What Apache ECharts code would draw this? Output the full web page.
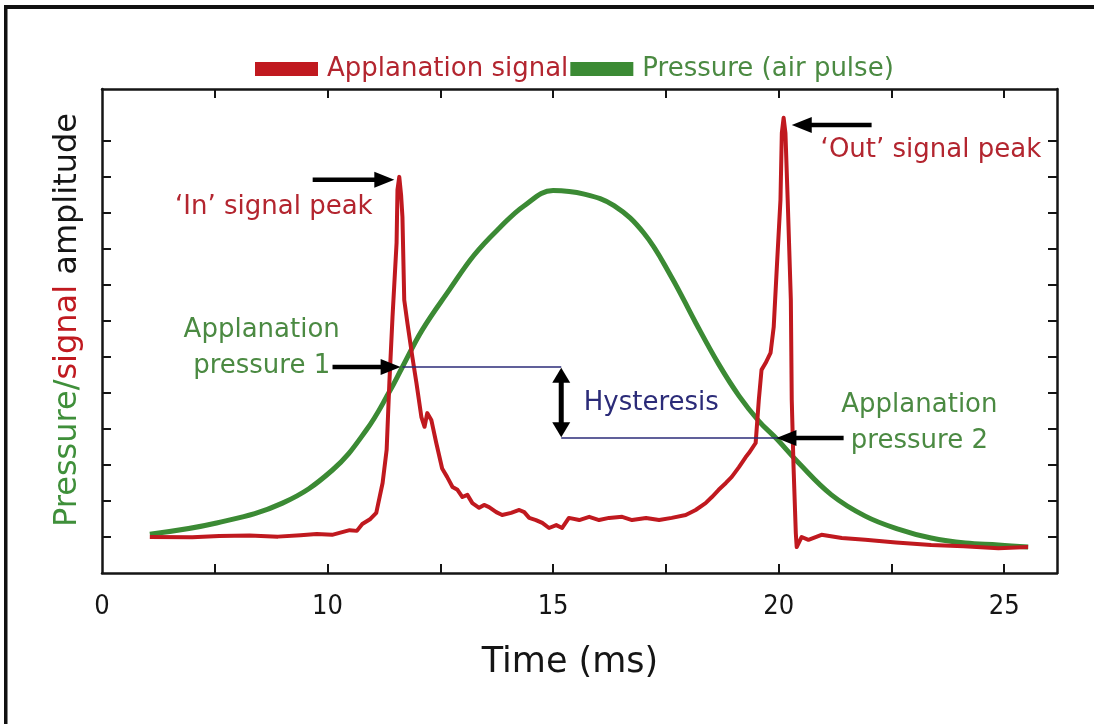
<!DOCTYPE html>
<html>
<head>
<meta charset="utf-8">
<script src="https://cdn.jsdelivr.net/npm/echarts@6/dist/echarts.min.js"></script>
<style>
  html, body { margin: 0; padding: 0; background: #ffffff; }
  #chart { width: 1094px; height: 724px; }
</style>
</head>
<body>
<div id="chart"></div>
<script>
// Applanation signal (corneal reflection), time in ms vs amplitude (arbitrary units)
const signalTime = [6.06, 7.0, 7.6, 8.27, 8.9, 9.4, 9.76, 10.1, 10.49, 10.65,
  10.77, 10.95, 11.08, 11.22, 11.31, 11.37, 11.44, 11.53, 11.55, 11.59,
  11.63, 11.66, 11.70, 11.77, 11.88, 11.97, 12.08, 12.15, 12.21, 12.30,
  12.41, 12.54, 12.65, 12.77, 12.88, 12.99, 13.10, 13.21, 13.36, 13.47,
  13.58, 13.74, 13.87, 14.07, 14.25, 14.36, 14.47, 14.62, 14.76, 14.91,
  15.07, 15.20, 15.35, 15.58, 15.80, 16.02, 16.24, 16.53, 16.75, 17.06,
  17.35, 17.63, 17.94, 18.16, 18.38, 18.52, 18.67, 18.83, 18.96, 19.12,
  19.27, 19.34, 19.49, 19.56, 19.62, 19.71, 19.82, 19.89, 19.96, 20.04,
  20.07, 20.11, 20.15, 20.20, 20.27, 20.29, 20.33, 20.38, 20.40, 20.51,
  20.66, 20.95, 21.4, 21.92, 22.6, 23.38, 24.1, 24.87, 25.53];
const signalAmp = [1.00, 0.99, 1.03, 1.04, 1.01, 1.05, 1.08, 1.06, 1.19, 1.17,
  1.36, 1.50, 1.67, 2.50, 3.42, 5.28, 7.11, 9.17, 10.64, 11.00,
  10.5, 9.89, 7.58, 6.94, 6.00, 5.28, 4.33, 4.06, 4.44, 4.25,
  3.61, 2.90, 2.67, 2.39, 2.31, 2.11, 2.17, 1.94, 1.81, 1.89,
  1.83, 1.69, 1.61, 1.67, 1.75, 1.69, 1.53, 1.47, 1.39, 1.25,
  1.33, 1.25, 1.53, 1.47, 1.56, 1.47, 1.53, 1.56, 1.47, 1.53,
  1.47, 1.53, 1.61, 1.75, 1.94, 2.11, 2.31, 2.50, 2.67, 2.94,
  3.22, 3.33, 3.61, 4.81, 5.64, 5.83, 6.11, 6.83, 8.50, 10.36,
  12.22, 12.64, 12.22, 10.36, 7.58, 4.81, 2.94, 1.11, 0.72, 1.00,
  0.92, 1.06, 0.97, 0.92, 0.85, 0.78, 0.74, 0.69, 0.72];

// Air-pulse pressure, same time base
const pressureTime = [6.06, 7.54, 9.00, 10.11, 10.86, 11.37, 11.66, 12.10, 12.70, 13.25,
  13.81, 14.36, 15.00, 15.69, 16.35, 17.01, 17.61, 18.16, 18.67, 19.12,
  19.56, 19.96, 20.44, 21.17, 21.92, 22.65, 23.38, 24.14, 24.87, 25.53];
const pressureAmp = [1.08, 1.39, 1.94, 2.86, 3.97, 5.03, 5.72, 6.75, 7.86, 8.83,
  9.58, 10.20, 10.62, 10.52, 10.20, 9.44, 8.25, 6.95, 5.80, 4.92,
  4.22, 3.72, 3.06, 2.17, 1.58, 1.22, 0.97, 0.83, 0.78, 0.72];

// Axis ticks and labels
const xTickValues = [7.5, 10, 12.5, 15, 17.5, 20, 22.5, 25];
const xLabelValues = [5, 10, 15, 20, 25];
const xTickLabels = ['0', '10', '15', '20', '25'];
const yTickValues = [1, 2, 3, 4, 5, 6, 7, 8, 9, 10, 11, 12];

const seriesNames = ['Applanation signal', 'Pressure (air pulse)'];

// Annotation anchors (data coordinates)
const peakArrows = [
  { from: [9.67, 10.92], to: [11.48, 10.92] },
  { from: [22.06, 12.44], to: [20.29, 12.44] },
  { from: [10.11, 5.72], to: [11.62, 5.72] },
  { from: [21.44, 3.75], to: [19.95, 3.75] }
];
const hysteresisLevels = [
  [[11.66, 5.72], [15.18, 5.72]],
  [[15.18, 3.75], [20.0, 3.75]]
];
const hysteresisSpan = { t: 15.18, top: 5.70, bottom: 3.77 };

const RED = '#c0191f';
const GREEN = '#3b8a34';
const RED_TEXT = '#b3252f';
const GREEN_TEXT = '#4b8a42';
const NAVY = '#2b2b78';
const INK = '#151515';

const notes = [
  { text: '\u2018In\u2019 signal peak', at: [11.0, 10.17], align: 'right', color: RED_TEXT },
  { text: '\u2018Out\u2019 signal peak', at: [20.93, 11.75], align: 'left', color: RED_TEXT },
  { text: 'Applanation\npressure 1', at: [8.54, 6.25], align: 'center', color: GREEN_TEXT },
  { text: 'Applanation\npressure 2', at: [23.12, 4.15], align: 'center', color: GREEN_TEXT },
  { text: 'Hysteresis', at: [15.68, 4.72], align: 'left', color: NAVY }
];

const zip = (a, b) => a.map((v, i) => [v, b[i]]);

const TEXT_FONT = '"DejaVu Sans", "Noto Sans", sans-serif';
const TICK_FONT = '"Liberation Sans Narrow", "DejaVu Sans Condensed", "Liberation Sans", sans-serif';

const X_MIN = 5, X_MAX = 26.17, Y_MIN = 0, Y_MAX = 13.44;

function frameAxis(extra) {
  return Object.assign({
    type: 'value',
    axisLine: { show: true, onZero: false, lineStyle: { color: INK, width: 2.5 } },
    axisTick: { show: true, inside: true, length: 9, lineStyle: { color: INK, width: 2 } },
    axisLabel: { show: false },
    splitLine: { show: false }
  }, extra);
}

const chart = echarts.init(document.getElementById('chart'), null, { renderer: 'canvas' });

chart.setOption({
  animation: false,
  backgroundColor: '#ffffff',
  grid: { left: 102, top: 89, right: 37, bottom: 151, containLabel: false },
  legend: {
    left: 250,
    top: 51,
    icon: 'rect',
    itemWidth: 63,
    itemHeight: 14,
    itemGap: 2,
    data: [
      { name: seriesNames[0], textStyle: { color: RED_TEXT } },
      { name: seriesNames[1], textStyle: { color: GREEN_TEXT } }
    ],
    textStyle: { fontSize: 26, fontFamily: TEXT_FONT, padding: [0, 0, 0, 4] }
  },
  xAxis: [
    frameAxis({
      position: 'bottom', min: X_MIN, max: X_MAX,
      axisTick: { show: true, inside: true, length: 9, lineStyle: { color: INK, width: 2 }, customValues: xTickValues },
      axisLabel: {
        show: true, customValues: xLabelValues, margin: 20,
        fontSize: 27, fontFamily: TICK_FONT, color: INK,
        formatter: v => xTickLabels[xLabelValues.indexOf(v)]
      }
    }),
    frameAxis({
      position: 'top', min: X_MIN, max: X_MAX,
      axisTick: { show: true, inside: true, length: 9, lineStyle: { color: INK, width: 2 }, customValues: xTickValues }
    })
  ],
  yAxis: [
    frameAxis({
      position: 'left', min: Y_MIN, max: Y_MAX,
      axisTick: { show: true, inside: true, length: 9, lineStyle: { color: INK, width: 2 }, customValues: yTickValues }
    }),
    frameAxis({
      position: 'right', min: Y_MIN, max: Y_MAX,
      axisTick: { show: true, inside: true, length: 9, lineStyle: { color: INK, width: 2 }, customValues: yTickValues }
    })
  ],
  series: [
    {
      name: seriesNames[1], type: 'line', xAxisIndex: 0, yAxisIndex: 0,
      data: zip(pressureTime, pressureAmp),
      showSymbol: false, smooth: 0.4, z: 2,
      itemStyle: { color: GREEN },
      lineStyle: { color: GREEN, width: 5 }
    },
    {
      name: seriesNames[0], type: 'line', xAxisIndex: 0, yAxisIndex: 0,
      data: zip(signalTime, signalAmp),
      showSymbol: false, smooth: false, z: 3,
      itemStyle: { color: RED },
      lineStyle: { color: RED, width: 4, join: 'round' }
    }
  ]
});

// Overlay: arrows, hysteresis levels, notes, axis titles and the outer frame
const toPx = p => chart.convertToPixel({ xAxisIndex: 0, yAxisIndex: 0 }, p);

function arrowHead(tip, dir, len, half) {
  const nx = -dir[1], ny = dir[0];
  const bx = tip[0] - dir[0] * len, by = tip[1] - dir[1] * len;
  return {
    type: 'polygon', z: 20, silent: true,
    shape: { points: [tip, [bx + nx * half, by + ny * half], [bx - nx * half, by - ny * half]] },
    style: { fill: '#000000' }
  };
}

function arrow(fromData, toData, len, half, width, both) {
  const a = toPx(fromData), b = toPx(toData);
  const dx = b[0] - a[0], dy = b[1] - a[1];
  const d = Math.hypot(dx, dy);
  const dir = [dx / d, dy / d];
  const back = [-dir[0], -dir[1]];
  const s0 = both ? [a[0] + dir[0] * len * 0.8, a[1] + dir[1] * len * 0.8] : a;
  const s1 = [b[0] - dir[0] * len * 0.8, b[1] - dir[1] * len * 0.8];
  const parts = [{
    type: 'line', z: 20, silent: true,
    shape: { x1: s0[0], y1: s0[1], x2: s1[0], y2: s1[1] },
    style: { stroke: '#000000', lineWidth: width }
  }, arrowHead(b, dir, len, half)];
  if (both) parts.push(arrowHead(a, back, len, half));
  return parts;
}

const overlay = [];

hysteresisLevels.forEach(seg => {
  const a = toPx(seg[0]), b = toPx(seg[1]);
  overlay.push({
    type: 'line', z: 15, silent: true,
    shape: { x1: a[0], y1: a[1], x2: b[0], y2: b[1] },
    style: { stroke: NAVY, lineWidth: 1.5 }
  });
});

peakArrows.forEach(ar => overlay.push(...arrow(ar.from, ar.to, 20, 8, 4.5, false)));
overlay.push(...arrow([hysteresisSpan.t, hysteresisSpan.top], [hysteresisSpan.t, hysteresisSpan.bottom], 15, 9, 5, true));

notes.forEach(n => {
  const p = toPx(n.at);
  overlay.push({
    type: 'text', z: 20, silent: true, x: p[0], y: p[1],
    style: {
      text: n.text, fill: n.color, fontSize: 26, fontFamily: TEXT_FONT,
      align: n.align, verticalAlign: 'middle', lineHeight: 36
    }
  });
});

// Axis titles
overlay.push({
  type: 'text', z: 20, silent: true, x: 570, y: 663,
  style: {
    text: 'Time (ms)', fill: INK, fontSize: 35, fontFamily: TEXT_FONT,
    align: 'center', verticalAlign: 'middle'
  }
});
overlay.push({
  type: 'text', z: 20, silent: true, x: 68, y: 320, rotation: Math.PI / 2,
  style: {
    text: '{g|Pressure/}{r|signal}{k| amplitude}',
    fontSize: 32, fontFamily: TEXT_FONT, align: 'center', verticalAlign: 'middle',
    rich: {
      g: { fill: '#3f8f3a', color: '#3f8f3a', fontSize: 32, fontFamily: TEXT_FONT },
      r: { fill: RED, color: RED, fontSize: 32, fontFamily: TEXT_FONT },
      k: { fill: INK, color: INK, fontSize: 32, fontFamily: TEXT_FONT }
    }
  }
});

// Outer frame (top and left edges)
overlay.push({ type: 'rect', z: 20, silent: true, shape: { x: 4, y: 5, width: 1090, height: 4 }, style: { fill: '#111111' } });
overlay.push({ type: 'rect', z: 20, silent: true, shape: { x: 4, y: 5, width: 3.5, height: 719 }, style: { fill: '#111111' } });

chart.setOption({ graphic: { elements: overlay } });
</script>
</body>
</html>
